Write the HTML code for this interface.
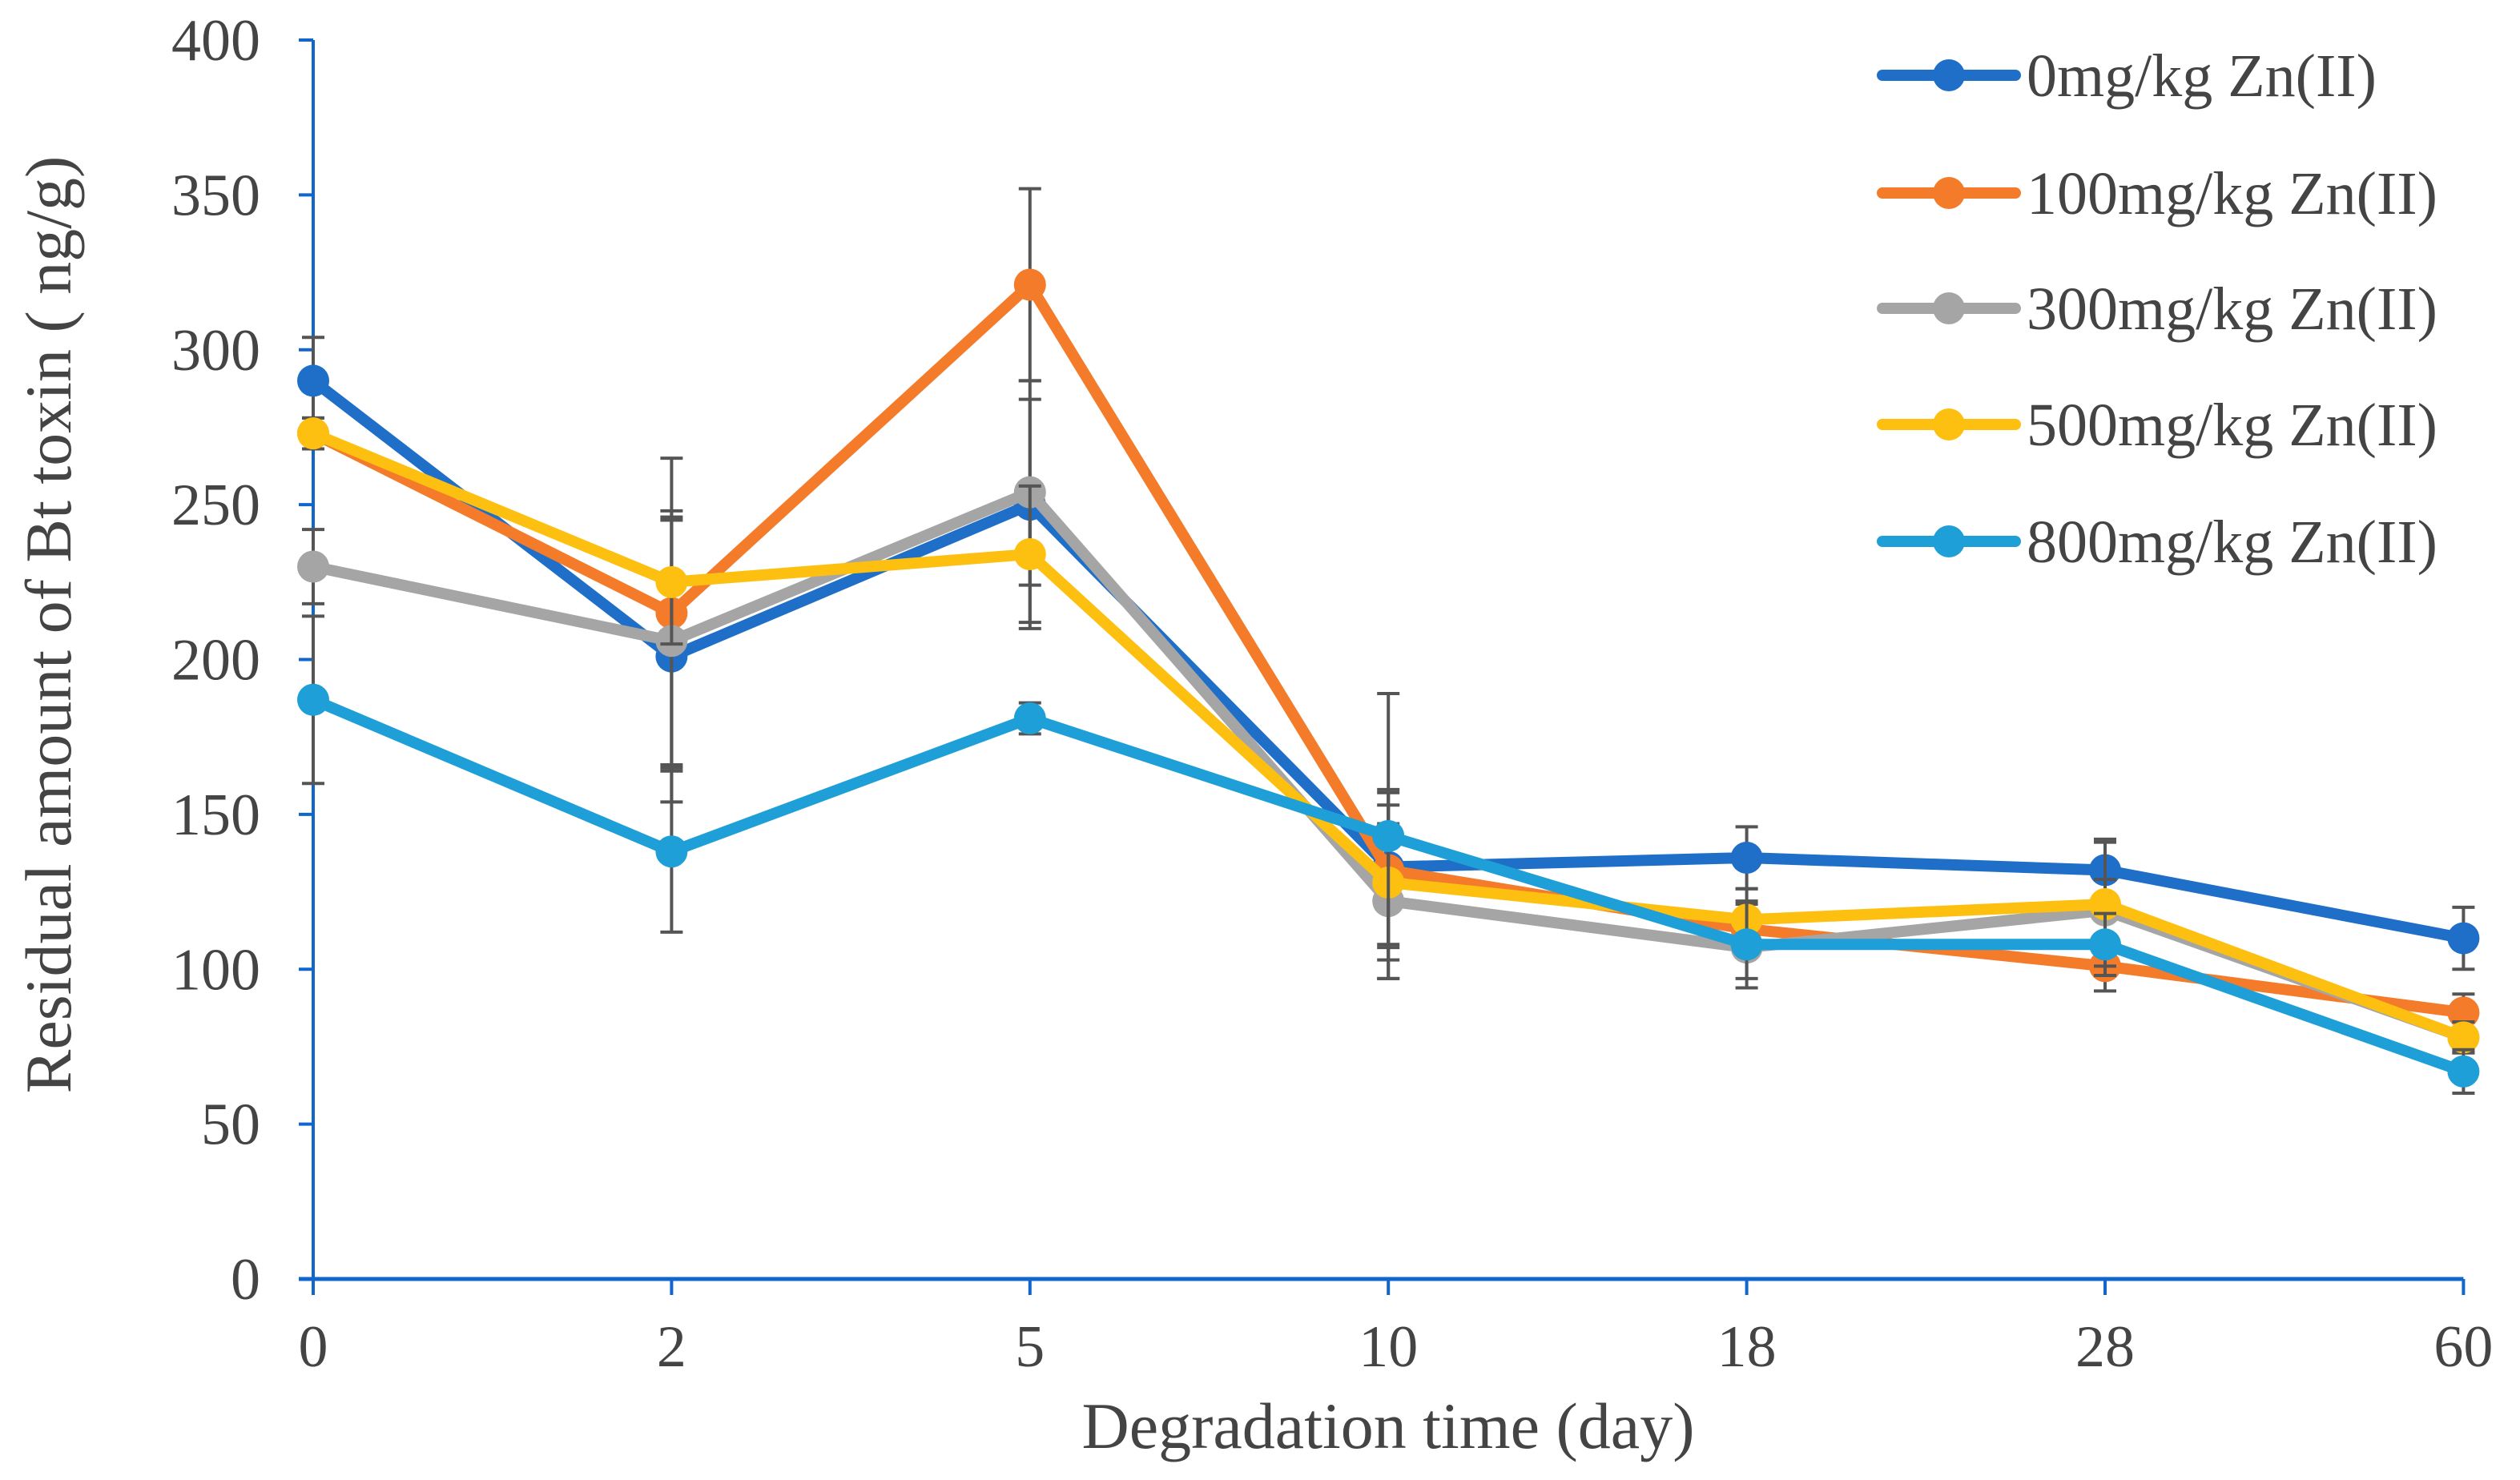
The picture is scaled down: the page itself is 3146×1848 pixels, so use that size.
<!DOCTYPE html>
<html><head><meta charset="utf-8"><style>
html,body{margin:0;padding:0;background:#fff;}
svg{display:block;font-family:"Liberation Serif",serif;}
</style></head><body>
<svg id="chart" width="3146" height="1848" viewBox="0 0 3146 1848" xmlns="http://www.w3.org/2000/svg">
<g id="axes"></g>
<g id="series"></g>
<g id="legend"></g>
<text x="1733" y="1808" font-size="82" fill="#444" text-anchor="middle">Degradation time (day)</text>
<text transform="translate(88,780) rotate(-90)" font-size="82" fill="#444" text-anchor="middle">Residual amount of Bt toxin ( ng/g)</text>
</svg>
<script>
const categories = ["0","2","5","10","18","28","60"];
const yTicks = [0,50,100,150,200,250,300,350,400];
const seriesNames = ["0mg/kg Zn(II)","100mg/kg Zn(II)","300mg/kg Zn(II)","500mg/kg Zn(II)","800mg/kg Zn(II)"];
const seriesColors = ["#1f6fc8","#f47b2a","#a5a5a5","#fdc010","#1f9fd8"];
const s0 = [290,201,250,133,136,132,110];
const s100 = [273,215,321,132,113,101,86];
const s300 = [230,206,254,122,107,119,78];
const s500 = [273,225,234,128,116,121,78];
const s800 = [187,138,181,143,108,108,67];
const e0 = [14,47,40,25,10,10,10];
const e100 = [5,50,31,25,8,8,6];
const e300 = [12,40,30,25,10,10,5];
const e500 = [5,20,22,25,10,20,5];
const e800 = [27,26,5,46,14,10,7];
const seriesValues = [s0,s100,s300,s500,s800];
const seriesErrors = [e0,e100,e300,e500,e800];

const NS="http://www.w3.org/2000/svg";
const X0=391, XSTEP=447.4, Y0=1597, YTOP=50, YMAX=400;
function xPos(i){return X0+i*XSTEP;}
function yPos(v){return Y0-(v/YMAX)*(Y0-YTOP);}
function mk(tag,attrs,parent){const el=document.createElementNS(NS,tag);for(const k in attrs)el.setAttribute(k,attrs[k]);parent.appendChild(el);return el;}

const axes=document.getElementById('axes');
const AX="#1166cc";
let el;
el=mk('line',{x1:X0-18,y1:Y0,x2:xPos(categories.length-1),y2:Y0,stroke:AX,'stroke-width':5},axes);


el=mk('line',{x1:X0,y1:YTOP,x2:X0,y2:Y0,stroke:AX,'stroke-width':4},axes);


yTicks.forEach(t=>{
  const y=yPos(t);
  const tk=mk('line',{x1:X0-18,y1:y,x2:X0,y2:y,stroke:AX,'stroke-width':4},axes);
  
  
  const lb=mk('text',{x:325,y:y+25,'font-size':74,fill:'#444','text-anchor':'end'},axes);
  lb.textContent=t;
  
  
});
categories.forEach((c,i)=>{
  const x=xPos(i);
  const tk=mk('line',{x1:x,y1:Y0,x2:x,y2:Y0+20,stroke:AX,'stroke-width':4},axes);
  
  
  const lb=mk('text',{x:x,y:1706,'font-size':74,fill:'#444','text-anchor':'middle'},axes);
  lb.textContent=c;
  
  
});

const sg=document.getElementById('series');
seriesValues.forEach((vals,si)=>{
  const g=mk('g',{},sg);
  
  
  const errs=seriesErrors[si];
  vals.forEach((v,i)=>{
    const x=xPos(i), yt=yPos(v+errs[i]), yb=yPos(v-errs[i]);
    const eb=mk('path',{d:`M${x},${yt}V${yb}M${x-14},${yt}H${x+14}M${x-14},${yb}H${x+14}`,stroke:'#555','stroke-width':4,fill:'none'},g);
    
    
  });
  const pts=vals.map((v,i)=>xPos(i)+','+yPos(v)).join(' ');
  const pl=mk('polyline',{points:pts,fill:'none',stroke:seriesColors[si],'stroke-width':14,'stroke-linejoin':'round','stroke-linecap':'round'},g);
  
  
  vals.forEach((v,i)=>{
    const c=mk('circle',{cx:xPos(i),cy:yPos(v),r:20,fill:seriesColors[si]},g);
    
    
  });
});

const lg=document.getElementById('legend');
const legendY=[94,241,385,530,676];
seriesNames.forEach((n,si)=>{
  const y=legendY[si];
  const g=mk('g',{},lg);
  
  
  mk('line',{x1:2350,y1:y,x2:2516,y2:y,stroke:seriesColors[si],'stroke-width':14,'stroke-linecap':'round'},g);
  mk('circle',{cx:2433,cy:y,r:20,fill:seriesColors[si]},g);
  const t=mk('text',{x:2530,y:y+26,'font-size':76,fill:'#444'},g);
  t.textContent=n;
});
</script>
</body></html>
